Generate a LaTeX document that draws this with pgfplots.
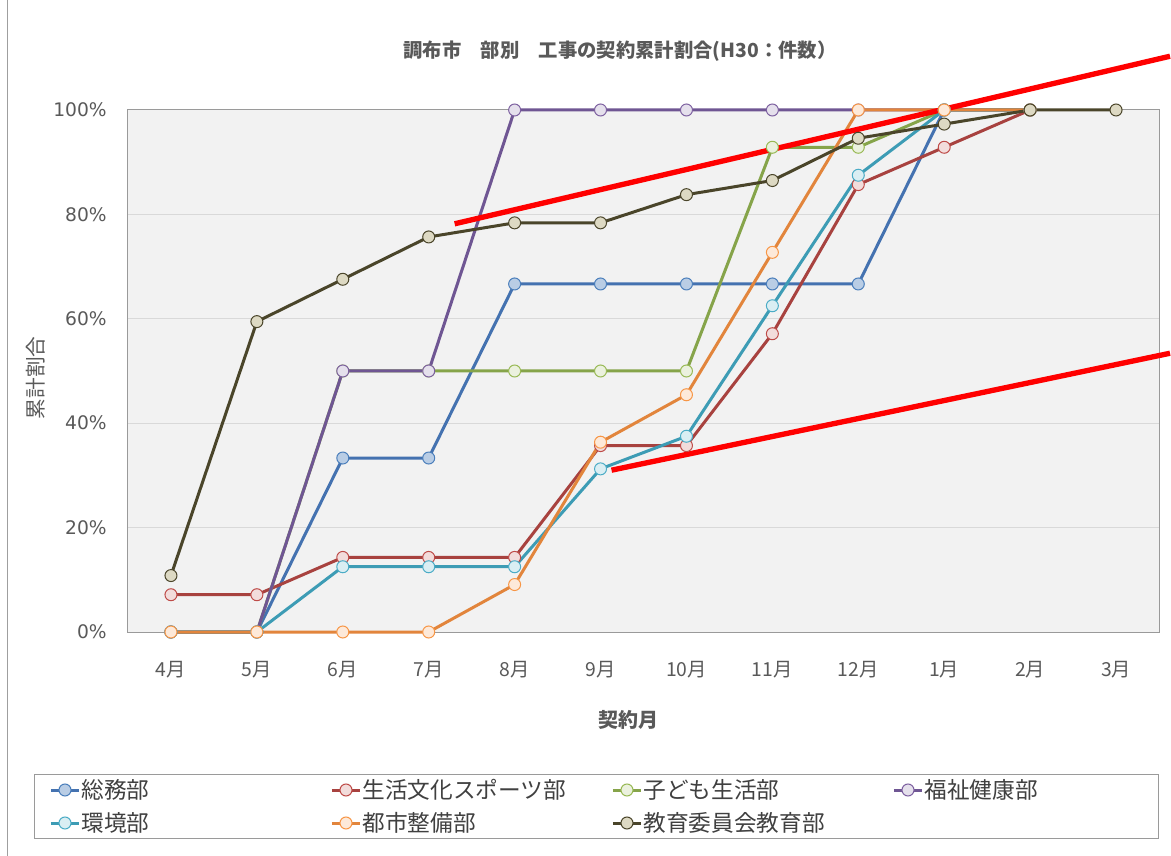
\documentclass[border=0pt]{standalone}
\usepackage{fontspec}
\setmainfont{Noto Sans CJK JP}
\newfontfamily\dejavu{DejaVu Sans}
\usepackage{pgfplots}
\pgfplotsset{compat=1.18}

\definecolor{txt}{HTML}{595959}
\definecolor{legtxt}{HTML}{404040}
\definecolor{bgc}{HTML}{F2F2F2}
\definecolor{gridc}{HTML}{D9D9D9}
\definecolor{boxc}{HTML}{9A9A9A}
\definecolor{lA}{HTML}{4472B0}\definecolor{fA}{HTML}{B9CDE5}\definecolor{eA}{HTML}{4A7EBB}
\definecolor{lB}{HTML}{A8423F}\definecolor{fB}{HTML}{F2DCDB}\definecolor{eB}{HTML}{BE4B48}
\definecolor{lC}{HTML}{86A44A}\definecolor{fC}{HTML}{EBF1DE}\definecolor{eC}{HTML}{98B954}
\definecolor{lD}{HTML}{6F5693}\definecolor{fD}{HTML}{E5E0EC}\definecolor{eD}{HTML}{7D60A0}
\definecolor{lE}{HTML}{3D9CB5}\definecolor{fE}{HTML}{DAEEF3}\definecolor{eE}{HTML}{4BACC6}
\definecolor{lF}{HTML}{E2853C}\definecolor{fF}{HTML}{FDE9D9}\definecolor{eF}{HTML}{F79646}
\definecolor{lG}{HTML}{4A452A}\definecolor{fG}{HTML}{DDD9C3}\definecolor{eG}{HTML}{4A452A}

\pgfplotsset{ser/.style n args={3}{draw=#1, line width=2.25pt, mark=*, mark size=4.5pt,
  mark options={fill=#2, draw=#3, line width=0.75pt, solid}}}

\begin{document}
\begin{tikzpicture}
\path[use as bounding box] (-96pt,-168pt) rectangle (782.25pt,474pt);
\fill[white] (-96pt,-168pt) rectangle (782.25pt,474pt);
\draw[gray!75, line width=0.75pt] (-90pt,-168pt) -- (-90pt,474pt);
\node[font=\bfseries\fontsize{14.5}{17}\selectfont, text=txt] at (369pt,435.75pt) {調布市　部別　工事の契約累計割合(H30：件数）};
\node[font=\bfseries\fontsize{15}{18}\selectfont, text=txt] at (375pt,-66pt) {契約月};
\node[font=\fontsize{15.5}{18}\selectfont, text=txt, rotate=90] at (-69pt,190.5pt) {累計割合};
\begin{axis}[
  at={(0,0)}, anchor=south west,
  scale only axis, width=773.25pt, height=391.5pt,
  xmin=-0.5, xmax=11.5, ymin=0, ymax=100,
  xtick={0,...,11},
  xticklabels={4月,5月,6月,7月,8月,9月,10月,11月,12月,1月,2月,3月},
  ytick={0,20,40,60,80,100},
  yticklabels={0\%,20\%,40\%,60\%,80\%,100\%},
  major tick length=0pt,
  ymajorgrids, grid style={draw=gridc, line width=0.75pt},
  axis background/.style={fill=bgc},
  axis line style={draw=boxc, line width=0.75pt},
  clip=false,
  xticklabel style={font=\fontsize{14.5}{17}\selectfont, text=txt, anchor=base, inner sep=0pt, yshift=-33.25pt},
  yticklabel style={font=\dejavu\fontsize{14}{16}\selectfont, text=txt, anchor=base east, inner sep=0pt, xshift=-15.75pt, yshift=-5pt},
  legend columns=4,
  legend image code/.code={\draw[mark repeat=2,mark phase=2,#1] plot coordinates {(0pt,0pt) (10.5pt,0pt) (21pt,0pt)};},
  legend style={at={(-0.09117,-0.27203)}, anchor=north west, draw=boxc, line width=0.75pt,
    inner xsep=11.25pt, inner ysep=3.625pt, row sep=8.75pt,
    nodes={inner sep=0pt, text height=14pt, text depth=2pt, font=\fontsize{17}{20}\selectfont, text=legtxt},
    /tikz/every odd column/.append style={column sep=0.75pt},
    /tikz/every even column/.append style={column sep=0pt}},
]
\addplot[ser={lA}{fA}{eA}] coordinates {(0,0) (1,0) (2,33.33) (3,33.33) (4,66.67) (5,66.67) (6,66.67) (7,66.67) (8,66.67) (9,100) (10,100)};
\addlegendentry{\makebox[186.75pt][l]{総務部}}
\addplot[ser={lB}{fB}{eB}] coordinates {(0,7.14) (1,7.14) (2,14.29) (3,14.29) (4,14.29) (5,35.71) (6,35.71) (7,57.14) (8,85.71) (9,92.86) (10,100)};
\addlegendentry{\makebox[186.75pt][l]{生活文化スポーツ部}}
\addplot[ser={lC}{fC}{eC}] coordinates {(0,0) (1,0) (2,50) (3,50) (4,50) (5,50) (6,50) (7,92.86) (8,92.86) (9,100) (10,100)};
\addlegendentry{\makebox[186.75pt][l]{子ども生活部}}
\addplot[ser={lD}{fD}{eD}] coordinates {(0,0) (1,0) (2,50) (3,50) (4,100) (5,100) (6,100) (7,100) (8,100) (9,100) (10,100)};
\addlegendentry{\makebox[164.25pt][l]{福祉健康部}}
\addplot[ser={lE}{fE}{eE}] coordinates {(0,0) (1,0) (2,12.5) (3,12.5) (4,12.5) (5,31.25) (6,37.5) (7,62.5) (8,87.5) (9,100) (10,100)};
\addlegendentry{\makebox[186.75pt][l]{環境部}}
\addplot[ser={lF}{fF}{eF}] coordinates {(0,0) (1,0) (2,0) (3,0) (4,9.09) (5,36.36) (6,45.45) (7,72.73) (8,100) (9,100) (10,100)};
\addlegendentry{\makebox[186.75pt][l]{都市整備部}}
\addplot[ser={lG}{fG}{eG}] coordinates {(0,10.81) (1,59.46) (2,67.57) (3,75.68) (4,78.38) (5,78.38) (6,83.78) (7,86.49) (8,94.59) (9,97.30) (10,100) (11,100)};
\addlegendentry{\makebox[186.75pt][l]{教育委員会教育部}}
\addplot[forget plot, draw=red, line width=4pt] coordinates {(3.302,78.2) (11.628,110.3)};
\addplot[forget plot, draw=red, line width=4pt] coordinates {(5.128,31.0) (11.628,53.4)};
\end{axis}
\end{tikzpicture}
\end{document}
